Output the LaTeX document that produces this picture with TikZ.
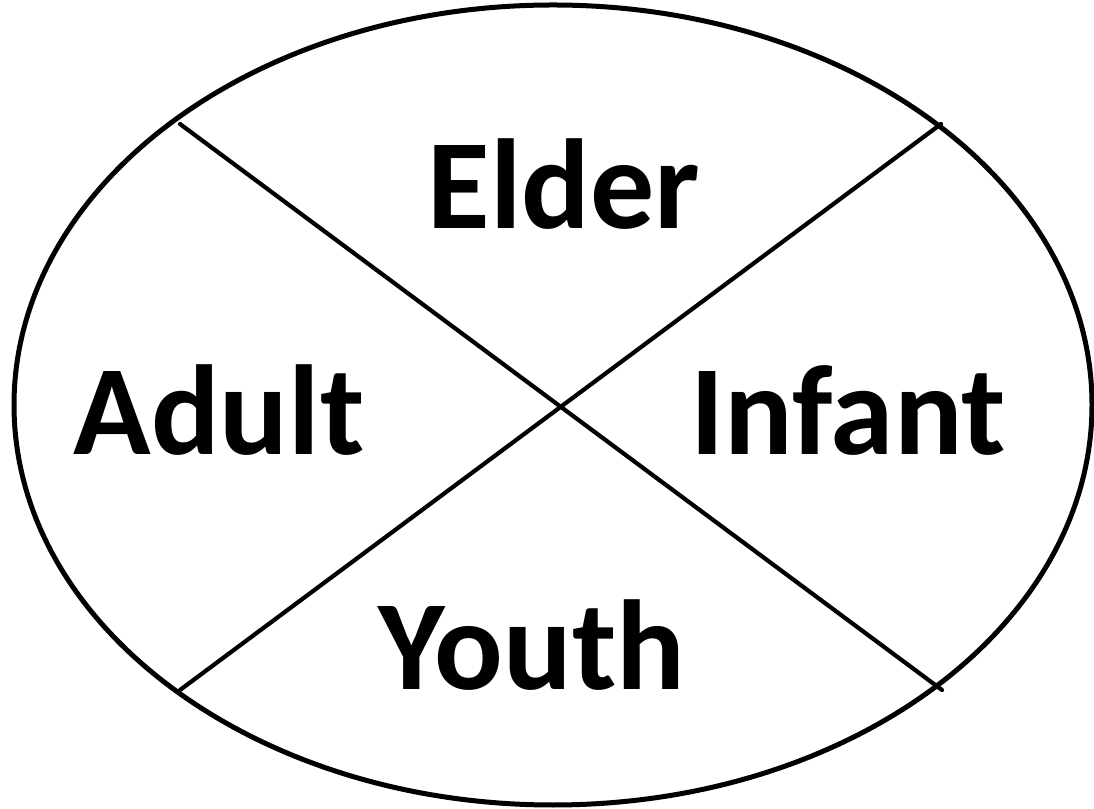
\documentclass[tikz,border=0pt]{standalone}
\usepackage{fontspec}
\setmainfont{Carlito}
\begin{document}
\begin{tikzpicture}[x=1pt,y=1pt,line join=round,line cap=round,every node/.style={font=\fontsize{128}{154}\selectfont\bfseries,inner sep=0pt,anchor=base},rim/.style={line width=5pt}]
				\useasboundingbox (0,0) rectangle (1094,808);
				\draw[rim] (553,403) ellipse [x radius=539,y radius=400];
				\coordinate (tl) at (180,684);
				\coordinate (tr) at (941,684);
				\coordinate (bl) at (180,118);
				\coordinate (br) at (942,118);
				\draw[rim,line width=4.2pt] (tl) -- (br);
				\draw[rim,line width=4.2pt] (tr) -- (bl);
				\node (elder) at (564,579) {Elder};
				\node (adult) at (219,353) {Adult};
				\node (infant) at (848,353) {Infant};
				\node (youth) at (532,118) {Youth};
		\end{tikzpicture}
\end{document}
